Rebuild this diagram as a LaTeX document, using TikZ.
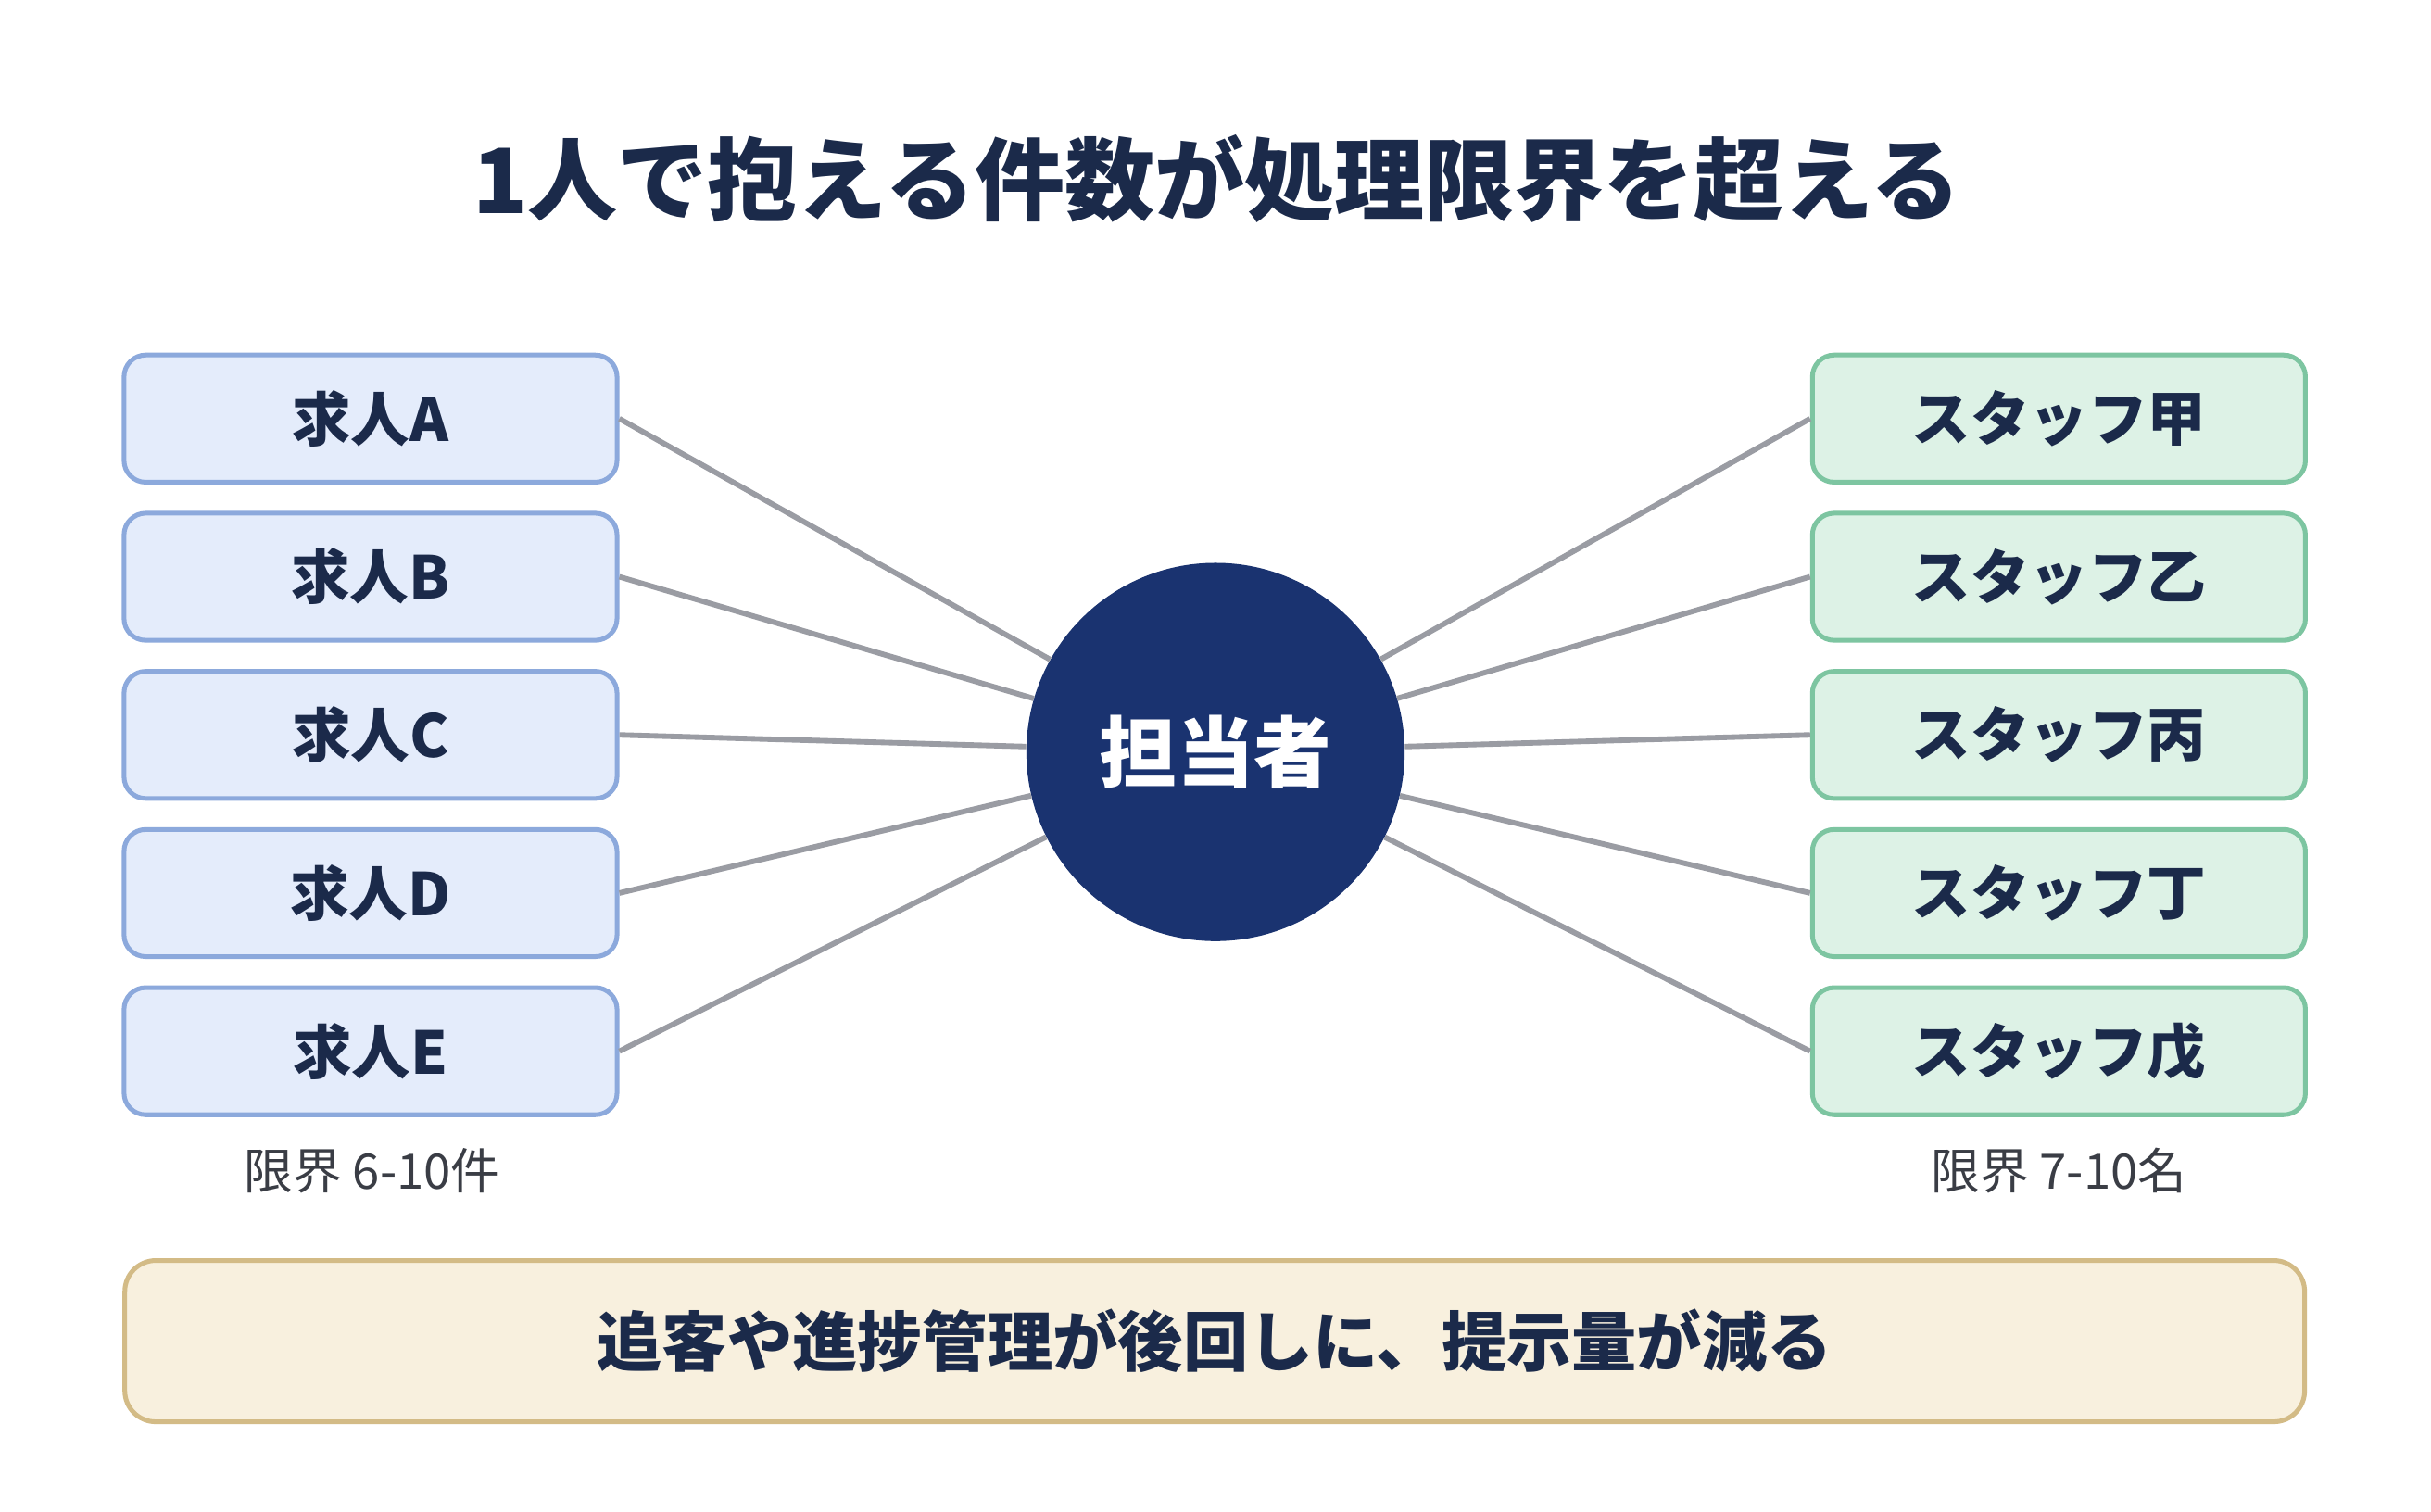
\documentclass[tikz,border=0pt]{standalone}
\usepackage{fontspec}
\setmainfont{Noto Sans CJK JP}
\definecolor{navy}{HTML}{1B2A4A}
\definecolor{circ}{HTML}{1A3370}
\definecolor{lbfill}{HTML}{E4ECFB}
\definecolor{lbdraw}{HTML}{8CA9DC}
\definecolor{gfill}{HTML}{DDF2E6}
\definecolor{gdraw}{HTML}{7DC5A1}
\definecolor{yfill}{HTML}{F8F0DE}
\definecolor{ydraw}{HTML}{D3BB86}
\definecolor{linec}{HTML}{9A9CA3}
\definecolor{labc}{HTML}{3A3D45}
\tikzset{
 box/.style={rounded corners=14pt, line width=3pt, minimum width=318pt, minimum height=82pt, font=\fontsize{38}{42}\selectfont\bfseries, text=navy},
 bluebox/.style={box, fill=lbfill, draw=lbdraw},
 greenbox/.style={box, fill=gfill, draw=gdraw},
 conn/.style={draw=linec, line width=3.5pt},
}
\begin{document}
\begin{tikzpicture}[x=1pt,y=-1pt]
\useasboundingbox[fill=white] (0,0) rectangle (1568,975);
\node[font=\fontsize{58}{64}\selectfont\bfseries, text=navy] (title) at (785,115) {1人で抱える件数が処理限界を超える};
\node[circle, fill=circ, minimum size=244pt, inner sep=0pt, text=white, font=\fontsize{50}{56}\selectfont\bfseries] (c) at (784,485) {担当者};
\foreach \n/\t/\y in {a/A/270,b/B/372,c/C/474,d/D/576,e/E/678}{
  \node[bluebox] (L\n) at (239,\y) {求人\t};
  \draw[conn] (L\n.east) -- (c);
}
\foreach \n/\t/\y in {a/甲/270,b/乙/372,c/丙/474,d/丁/576,e/戊/678}{
  \node[greenbox] (R\n) at (1328,\y) {スタッフ\t};
  \draw[conn] (R\n.west) -- (c);
}
\node[text=labc, font=\fontsize{31.5}{36}\selectfont] (ll) at (240,755) {限界 6-10件};
\node[text=labc, font=\fontsize{31.5}{36}\selectfont] (rl) at (1328,755) {限界 7-10名};
\node[rounded corners=20pt, line width=3pt, fill=yfill, draw=ydraw, minimum width=1406pt, minimum height=104pt, text=navy, font=\fontsize{42}{48}\selectfont\bfseries] (bot) at (783.5,865) {追客や進捗管理が後回しに、提示量が減る};
\end{tikzpicture}
\end{document}
